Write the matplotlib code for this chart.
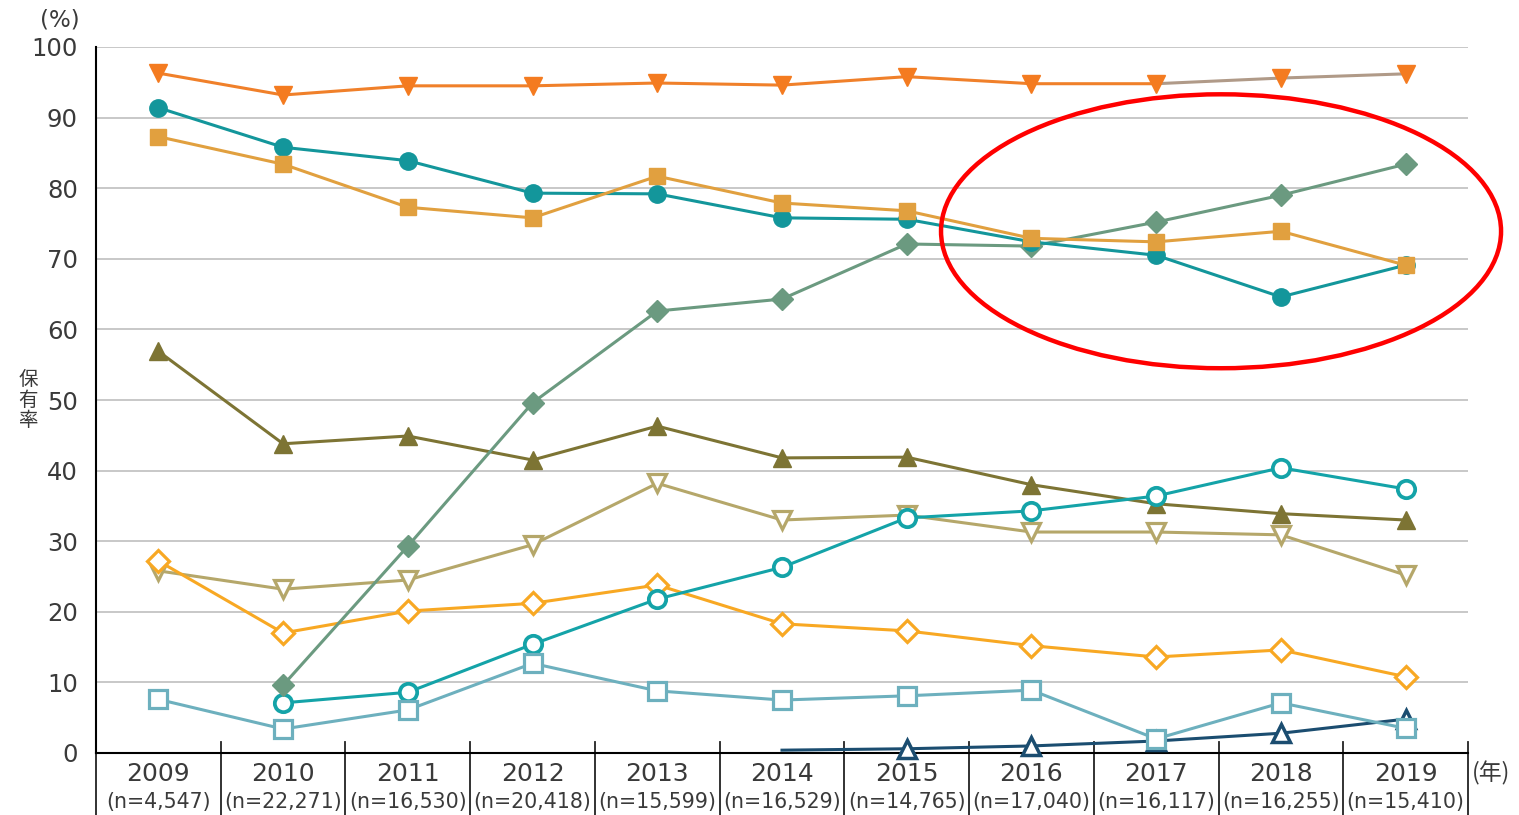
import matplotlib.pyplot as plt
from matplotlib.patches import Ellipse
from matplotlib.transforms import blended_transform_factory

plt.rcParams['font.family'] = ['DejaVu Sans', 'Noto Sans CJK JP']

years = ['2009', '2010', '2011', '2012', '2013', '2014', '2015', '2016', '2017', '2018', '2019']
n_labels = ['(n=4,547)', '(n=22,271)', '(n=16,530)', '(n=20,418)', '(n=15,599)', '(n=16,529)',
            '(n=14,765)', '(n=17,040)', '(n=16,117)', '(n=16,255)', '(n=15,410)']

s_tri_down = [96.3, 93.2, 94.5, 94.5, 94.9, 94.6, 95.8, 94.8, 94.8, 95.6, 96.2]
s_circle = [91.4, 85.8, 83.9, 79.3, 79.2, 75.8, 75.6, 72.4, 70.5, 64.6, 69.1]
s_square = [87.3, 83.4, 77.3, 75.8, 81.7, 77.9, 76.8, 72.9, 72.4, 73.9, 69.1]
s_diamond = [None, 9.6, 29.3, 49.6, 62.6, 64.3, 72.1, 71.8, 75.2, 79.0, 83.4]
s_tri_up = [56.9, 43.8, 44.9, 41.5, 46.3, 41.8, 41.9, 38.0, 35.3, 33.9, 33.0]
s_ocircle = [None, 7.1, 8.6, 15.4, 21.8, 26.3, 33.3, 34.3, 36.4, 40.4, 37.4]
s_otri_down = [25.8, 23.2, 24.5, 29.5, 38.2, 33.0, 33.7, 31.3, 31.3, 30.9, 25.2]
s_odiamond = [27.2, 17.0, 20.1, 21.2, 23.8, 18.3, 17.3, 15.2, 13.6, 14.6, 10.8]
s_osquare = [7.6, 3.4, 6.1, 12.7, 8.8, 7.5, 8.1, 8.9, 2.0, 7.1, 3.5]
s_otri_up = [None, None, None, None, None, 0.4, 0.6, 1.0, 1.7, 2.8, 4.8]


def pts(vals):
    xs = [i for i, v in enumerate(vals) if v is not None]
    ys = [v for v in vals if v is not None]
    return xs, ys


fig = plt.figure(figsize=(15.19, 8.15), dpi=100)
ax = fig.add_axes([96 / 1519, 62 / 815, 1372 / 1519, 706 / 815])
ax.set_xlim(-0.5, 10.5)
ax.set_ylim(0, 100)

# grid
for g in range(10, 101, 10):
    ax.axhline(g, color='#c8c8c8', lw=1.4, zorder=0)

lw = 2.2
# lower group
x, y = pts(s_otri_down)
ax.plot(x, y, color='#b5a76a', lw=lw, marker='v', ms=13, mfc='white', mec='#b5a76a', mew=2.3, zorder=3)
x, y = pts(s_tri_up)
ax.plot(x, y, color='#7d7434', lw=lw, marker='^', ms=12.5, mfc='#7d7434', mec='#7d7434', zorder=3)
x, y = pts(s_odiamond)
ax.plot(x, y, color='#f8a823', lw=lw, marker='D', ms=11.5, mfc='white', mec='#f8a823', mew=2.3, zorder=3)
x, y = pts(s_ocircle)
ax.plot(x, y, color='#14a3a8', lw=lw, marker='o', ms=12.5, mfc='white', mec='#14a3a8', mew=2.7, zorder=3)
x, y = pts(s_otri_up)
ax.plot(x, y, color='#1b4d70', lw=lw, marker='^', ms=12.5, mfc='white', mec='#1b4d70', mew=2.5,
        markevery=list(range(1, len(x))), zorder=3, clip_on=False)
x, y = pts(s_osquare)
ax.plot(x, y, color='#6db0be', lw=lw, marker='s', ms=12.5, mfc='white', mec='#6db0be', mew=2.3, zorder=4)

# upper group
x, y = pts(s_diamond)
ax.plot(x, y, color='#6b9a80', lw=lw, marker='D', ms=11.5, mfc='#6b9a80', mec='#6b9a80', zorder=5)
x, y = pts(s_circle)
ax.plot(x, y, color='#13969b', lw=lw, marker='o', ms=12.5, mfc='#13969b', mec='#13969b', zorder=5)
x, y = pts(s_square)
ax.plot(x, y, color='#e1a03f', lw=lw, marker='s', ms=12, mfc='#e1a03f', mec='#e1a03f', zorder=6)
x, y = pts(s_tri_down)
ax.plot(x[:9], y[:9], color='#f0802a', lw=lw, zorder=6)
ax.plot(x[8:], y[8:], color='#b09a88', lw=lw, zorder=6)
ax.plot(x, y, ls='none', marker='v', ms=13.5, mfc='#f47b20', mec='#f47b20', zorder=7)

# red ellipse
ax.add_patch(Ellipse((8.52, 73.9), 4.49, 38.8, fill=False, ec='#ff0000', lw=3.2,
                     clip_on=False, zorder=10))

# axes styling
for side in ['top', 'right']:
    ax.spines[side].set_visible(False)
ax.spines['left'].set_linewidth(1.5)
ax.spines['bottom'].set_linewidth(1.5)
ax.spines['left'].set_bounds(0, 100)
ax.set_yticks(range(0, 101, 10))
ax.tick_params(axis='y', length=0, pad=13, labelsize=17.5, labelcolor='#3a3a3a')
ax.set_xticks([])

trans = blended_transform_factory(ax.transData, ax.transAxes)
for b in [i - 0.5 for i in range(12)]:
    top = 0.0 if b == -0.5 else 0.015
    ax.plot([b, b], [top, -0.1], color='#222222', lw=1.3, transform=trans, clip_on=False)

for i in range(len(years)):
    ax.text(i, -0.03, years[i], transform=trans, ha='center', va='center', fontsize=18, color='#3a3a3a')
    ax.text(i, -0.069, n_labels[i], transform=trans, ha='center', va='center', fontsize=14.8, color='#3a3a3a')

fig.text(60 / 1519, 1 - 20 / 815, '(%)', ha='center', va='center', fontsize=16.5, color='#3a3a3a')
fig.text(28 / 1519, 1 - 400 / 815, '保\n有\n率', ha='center', va='center', fontsize=14,
         linespacing=0.95, color='#3a3a3a', family=['Noto Sans CJK JP'])
fig.text(1491 / 1519, 1 - 773 / 815, '(年)', ha='center', va='center', fontsize=16.5, color='#3a3a3a',
         family=['Noto Sans CJK JP'])

fig.savefig('out.png', dpi=100)
